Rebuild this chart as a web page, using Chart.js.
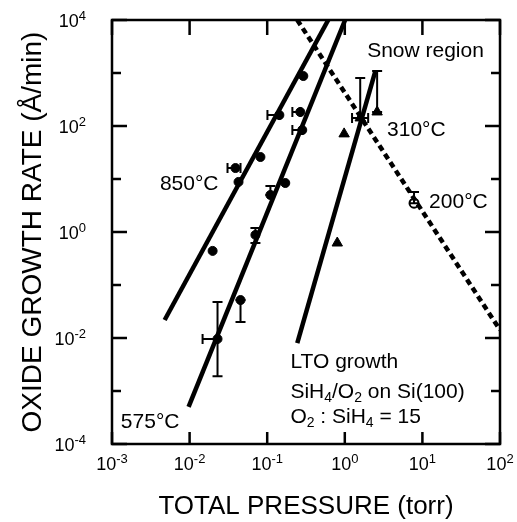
<!DOCTYPE html>
<html>
<head>
<meta charset="utf-8">
<script src="https://cdn.jsdelivr.net/npm/chart.js@4/dist/chart.umd.min.js"></script>
<style>
html,body{margin:0;padding:0;background:#fff;}
#wrap{width:517px;height:522px;}
</style>
</head>
<body>
<div id="wrap"><canvas id="c" width="517" height="522"></canvas></div>
<script>
// ---- tick values / labels (base 10, exponent) ----
const xTickValues = [1e-3, 1e-2, 1e-1, 1e0, 1e1, 1e2];
const xTickExponents = ['-3', '-2', '-1', '0', '1', '2'];
const yTickValues = [1e-4, 1e-3, 1e-2, 1e-1, 1e0, 1e1, 1e2, 1e3, 1e4];
const yTickExponents = ['-4', '', '-2', '', '0', '', '2', '', '4'];

// ---- fitted lines (end points, torr / Å/min) ----
const line850X = [0.00477, 0.612];
const line850Y = [0.0219, 1e4];
const line575X = [0.0097, 1.01];
const line575Y = [5.0e-4, 1e4];
const lineLTOX = [0.244, 2.46];
const lineLTOY = [0.0080, 1045];
const lineSnowX = [0.244, 100];
const lineSnowY = [1e4, 0.0142];

// ---- measured points ----
const pts850X = [0.0198, 0.0427, 0.039, 0.0818, 0.1435, 0.292];
const pts850Y = [0.44, 8.8, 16.1, 26, 161, 877];
const err850X = [null, null, [0.0308, 0.0453], null, [0.1007, 0.1435], null];
const err850Y = [null, null, null, null, null, null];

const pts575X = [0.0229, 0.0453, 0.0705, 0.11, 0.171, 0.267, 0.283];
const pts575Y = [0.0096, 0.052, 0.88, 5.0, 8.4, 184, 84];
const err575X = [[0.0147, 0.0229], null, null, null, null, [0.211, 0.267], [0.211, 0.283]];
const err575Y = [[0.0019, 0.048], [0.02, 0.052], [0.62, 1.19], [5.0, 7.4], null, null, null];

const ptsLTOX = [0.80, 0.98, 1.58, 2.61];
const ptsLTOY = [0.62, 71, 142, 184];
const errLTOX = [null, null, [1.24, 2.0], null];
const errLTOY = [null, null, [142, 805], [184, 1090]];

const pts200X = [7.8];
const pts200Y = [3.5];
const err200X = [null];
const err200Y = [[3.5, 5.7]];

const FONT = "'Liberation Sans', Arial, Helvetica, sans-serif";

function xy(xs, ys) { return xs.map((x, i) => ({x: x, y: ys[i]})); }

const lineStyle = {showLine: true, borderColor: '#000', borderWidth: 4.5, pointRadius: 0, fill: false, borderCapStyle: 'butt'};

const datasets = [
  Object.assign({label: '850 fit', data: xy(line850X, line850Y)}, lineStyle),
  Object.assign({label: '575 fit', data: xy(line575X, line575Y)}, lineStyle),
  Object.assign({label: 'LTO fit', data: xy(lineLTOX, lineLTOY)}, lineStyle),
  Object.assign({label: 'Snow boundary', data: xy(lineSnowX, lineSnowY)}, lineStyle, {borderDash: [6, 4], borderWidth: 4.5}),
  {label: '850°C', data: xy(pts850X, pts850Y), errX: err850X, errY: err850Y, pointStyle: 'circle', pointRadius: 4.5, backgroundColor: '#000', borderColor: '#000', borderWidth: 1},
  {label: '575°C', data: xy(pts575X, pts575Y), errX: err575X, errY: err575Y, pointStyle: 'circle', pointRadius: 4.5, backgroundColor: '#000', borderColor: '#000', borderWidth: 1},
  {label: '310°C', data: xy(ptsLTOX, ptsLTOY), errX: errLTOX, errY: errLTOY, pointStyle: 'triangle', pointRadius: 6, backgroundColor: '#000', borderColor: '#000', borderWidth: 1},
  {label: '200°C', data: xy(pts200X, pts200Y), errX: err200X, errY: err200Y, pointStyle: 'circle', pointRadius: 4.5, backgroundColor: '#fff', borderColor: '#000', borderWidth: 2}
];

const annotations = [
  {text: [['Snow region', 0]], x: 1.94, y: 2600, align: 'left'},
  {text: [['310°C', 0]], x: 3.5, y: 84, align: 'left'},
  {text: [['200°C', 0]], x: 12.2, y: 3.7, align: 'left'},
  {text: [['850°C', 0]], x: 0.0236, y: 8.1, align: 'right'},
  {text: [['575°C', 0]], x: 0.0013, y: 2.6e-4, align: 'left'},
  {text: [['LTO growth', 0]], x: 0.199, y: 0.0035, align: 'left'},
  {text: [['SiH', 0], ['4', 1], ['/O', 0], ['2', 1], [' on Si(100)', 0]], x: 0.199, y: 9.6e-4, align: 'left'},
  {text: [['O', 0], ['2', 1], [' : SiH', 0], ['4', 1], [' = 15', 0]], x: 0.199, y: 3.2e-4, align: 'left'}
];

const bgPlugin = {
  id: 'bg',
  beforeDraw(chart) {
    const c = chart.ctx;
    c.save(); c.fillStyle = '#fff'; c.fillRect(0, 0, chart.width, chart.height); c.restore();
  }
};

const errorBarPlugin = {
  id: 'errbars',
  afterDatasetsDraw(chart) {
    const c = chart.ctx, xs = chart.scales.x, ys = chart.scales.y;
    c.save();
    c.strokeStyle = '#000'; c.lineWidth = 2;
    chart.data.datasets.forEach(ds => {
      if (!ds.errX && !ds.errY) return;
      ds.data.forEach((p, i) => {
        const px = xs.getPixelForValue(p.x), py = ys.getPixelForValue(p.y);
        const ex = ds.errX && ds.errX[i], ey = ds.errY && ds.errY[i];
        if (ey) {
          const y1 = ys.getPixelForValue(ey[0]), y2 = ys.getPixelForValue(ey[1]);
          c.beginPath(); c.moveTo(px, y1); c.lineTo(px, y2);
          c.moveTo(px - 5, y1); c.lineTo(px + 5, y1);
          c.moveTo(px - 5, y2); c.lineTo(px + 5, y2);
          c.stroke();
        }
        if (ex) {
          const x1 = xs.getPixelForValue(ex[0]), x2 = xs.getPixelForValue(ex[1]);
          c.beginPath(); c.moveTo(x1, py); c.lineTo(x2, py);
          c.moveTo(x1, py - 5); c.lineTo(x1, py + 5);
          c.moveTo(x2, py - 5); c.lineTo(x2, py + 5);
          c.stroke();
        }
      });
    });
    c.restore();
  }
};

function drawPow(c, exp, x, y, align) {
  const base = '18px ' + FONT, sup = '13px ' + FONT;
  c.font = base; const wb = c.measureText('10').width;
  c.font = sup; const we = c.measureText(exp).width;
  const w = wb + we;
  let left = align === 'right' ? x - w : x - w / 2;
  c.textAlign = 'left'; c.textBaseline = 'middle';
  c.font = base; c.fillText('10', left, y);
  c.font = sup; c.fillText(exp, left + wb, y - 6);
}

const framePlugin = {
  id: 'frame',
  afterDraw(chart) {
    const c = chart.ctx, a = chart.chartArea, xs = chart.scales.x, ys = chart.scales.y;
    c.save();
    c.strokeStyle = '#000';
    c.lineWidth = 2.5;
    c.strokeRect(a.left, a.top, a.right - a.left, a.bottom - a.top);
    c.beginPath();
    xTickValues.forEach(v => {
      const px = xs.getPixelForValue(v);
      c.moveTo(px, a.bottom); c.lineTo(px, a.bottom - 12);
      c.moveTo(px, a.top); c.lineTo(px, a.top + 15);
    });
    yTickValues.forEach((v, i) => {
      const py = ys.getPixelForValue(v);
      const len = (i % 2 === 0) ? 15 : 9;
      c.moveTo(a.left, py); c.lineTo(a.left + len, py);
      c.moveTo(a.right, py); c.lineTo(a.right - len, py);
    });
    c.stroke();

    // tick labels
    c.fillStyle = '#000';
    xTickValues.forEach((v, i) => {
      drawPow(c, xTickExponents[i], xs.getPixelForValue(v), a.bottom + 21, 'center');
    });
    yTickValues.forEach((v, i) => {
      if (yTickExponents[i] === '') return;
      drawPow(c, yTickExponents[i], a.left - 26, ys.getPixelForValue(v) + 2, 'right');
    });

    // annotations
    c.textBaseline = 'middle';
    annotations.forEach(an => {
      const px = xs.getPixelForValue(an.x), py = ys.getPixelForValue(an.y);
      const base = '21px ' + FONT, sub = '14px ' + FONT;
      let w = 0;
      an.text.forEach(s => { c.font = s[1] ? sub : base; w += c.measureText(s[0]).width; });
      let cx = an.align === 'right' ? px - w : px;
      c.textAlign = 'left';
      an.text.forEach(s => {
        c.font = s[1] ? sub : base;
        c.fillText(s[0], cx, s[1] ? py + 6 : py);
        cx += c.measureText(s[0]).width;
      });
    });
    c.restore();
  }
};

new Chart(document.getElementById('c'), {
  type: 'scatter',
  data: {datasets: datasets},
  options: {
    responsive: false,
    devicePixelRatio: 1,
    animation: false,
    layout: {padding: {left: 0, right: 17, top: 20, bottom: 0}},
    plugins: {legend: {display: false}, tooltip: {enabled: false}},
    scales: {
      x: {
        type: 'logarithmic', min: 1e-3, max: 1e2,
        afterBuildTicks: s => { s.ticks = xTickValues.map(v => ({value: v})); },
        afterFit: s => { s.height = 78; },
        grid: {display: false, drawTicks: false},
        border: {display: false},
        ticks: {display: false},
        title: {display: true, text: 'TOTAL PRESSURE (torr)', color: '#000', font: {family: FONT, size: 26}, padding: {top: 0, bottom: 0}}
      },
      y: {
        type: 'logarithmic', min: 1e-4, max: 1e4,
        afterBuildTicks: s => { s.ticks = yTickValues.map(v => ({value: v})); },
        afterFit: s => { s.width = 112; },
        grid: {display: false, drawTicks: false},
        border: {display: false},
        ticks: {display: false},
        title: {display: true, text: 'OXIDE GROWTH RATE (Å/min)', color: '#000', font: {family: FONT, size: 28}, padding: {top: 16, bottom: 0}}
      }
    }
  },
  plugins: [bgPlugin, errorBarPlugin, framePlugin]
});
</script>
</body>
</html>
